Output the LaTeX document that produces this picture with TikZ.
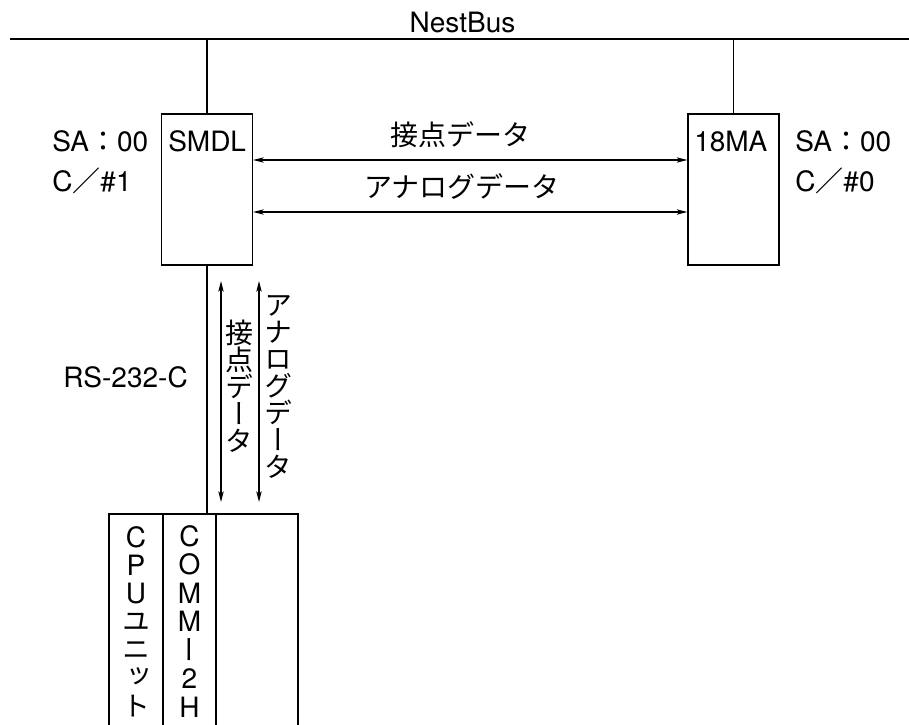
\documentclass[tikz,border=0pt]{standalone}
\usepackage{fontspec}
\setmainfont{TeX Gyre Heros}
\newfontfamily\jp{Noto Sans CJK JP}
\newfontfamily\jpv[RawFeature=+vert]{Noto Sans CJK JP}
\usetikzlibrary{arrows.meta}
\newcommand\vslot[1]{\hbox to 24pt{\hss\vrule width 0pt height 15pt depth 5.85pt\relax #1\hss}}
\begin{document}
\begin{tikzpicture}[x=0.75pt,y=-0.75pt,
  txt/.style={font=\fontsize{21}{25}\selectfont, inner sep=0pt},
  box/.style={draw, line width=0.9pt, inner sep=0pt},
  wire/.style={line width=0.9pt},
  bus/.style={line width=1.4pt},
  arr/.style={line width=0.9pt, {Stealth[length=8pt,width=4pt,inset=2pt]}-{Stealth[length=8pt,width=4pt,inset=2pt]}},
  vtxt/.style={inner sep=0pt, font=\fontsize{21}{20.85}\selectfont},
  vjp/.style={align=center, text width=24pt, inner sep=0pt, font=\jpv\fontsize{21}{20.25}\selectfont}]
\useasboundingbox (0,0) rectangle (909,724);
\clip (0,0) rectangle (909,724);
% bus
\coordinate (busL) at (10,39);
\coordinate (busR) at (909,39);
\draw[bus] (busL) -- (busR);
\node[txt, anchor=base] (nb) at (462.5,32.3) {NestBus};
% modules
\node[box, minimum width=68.25pt, minimum height=113.25pt] (smdl) at (207,189.5) {};
\node[box, minimum width=68.25pt, minimum height=113.25pt] (ma) at (733.5,189.5) {};
\draw[wire] (smdl.north) -- (smdl.north |- busL);
\draw[wire] (ma.north) -- (ma.north |- busL);
\node[txt, anchor=base west] (smdlt) at (168,151) {SMDL};
\node[txt, anchor=base west] (mat) at (694,151) {18MA};
\node[txt, anchor=base west] (sa1) at (52,151) {SA{\jp ：}00};
\node[txt, anchor=base west] (c1) at (52,191) {C{\jp ／}\#1};
\node[txt, anchor=base west] (sa2) at (795,151) {SA{\jp ：}00};
\node[txt, anchor=base west] (c2) at (795,191) {C{\jp ／}\#0};
% horizontal arrows
\coordinate (h1) at (0,160);
\coordinate (h2) at (0,212);
\draw[arr] (smdl.east |- h1) -- (ma.west |- h1);
\draw[arr] (smdl.east |- h2) -- (ma.west |- h2);
\node[txt, font=\jp\fontsize{21}{25}\selectfont] (l1) at (460,135) {接点データ};
\node[txt, font=\jp\fontsize{21}{25}\selectfont] (l2) at (462,187) {アナログデータ};
% CPU rack
\node[box, minimum width=40.5pt, minimum height=169.5pt] (colA) at (136,627) {};
\node[box, minimum width=39.75pt, minimum height=169.5pt] (colB) at (189.5,627) {};
\node[box, minimum width=61.5pt, minimum height=169.5pt] (colC) at (257,627) {};
\draw[wire] (smdl.south) -- (smdl.south |- colB.north);
% vertical arrows
\coordinate (v1t) at (221,281);
\coordinate (v1b) at (221,502);
\coordinate (v2t) at (259,281);
\coordinate (v2b) at (259,502);
\draw[arr] (v1t) -- (v1b);
\draw[arr] (v2t) -- (v2b);
\node[vjp] (vl1) at (239,386) {接\\点\\デ\\ー\\タ};
\node[vjp] (vl2) at (278,386.5) {ア\\ナ\\ロ\\グ\\デ\\ー\\タ};
\node[txt, anchor=base west] (rs) at (63,387) {RS-232-C};
% column texts
\node[vtxt] (cpu) at (136,625) {\vbox{\offinterlineskip
  \vslot{C}\vslot{P}\vslot{U}\vslot{\jpv ユ}\vslot{\jpv ニ}\vslot{\jpv ッ}\vslot{\jpv ト}}};
\node[vtxt] (comm) at (189.5,625) {\vbox{\offinterlineskip
  \vslot{C}\vslot{O}\vslot{M}\vslot{M}\vslot{\jpv ー}\vslot{2}\vslot{H}}};
\end{tikzpicture}
\end{document}
